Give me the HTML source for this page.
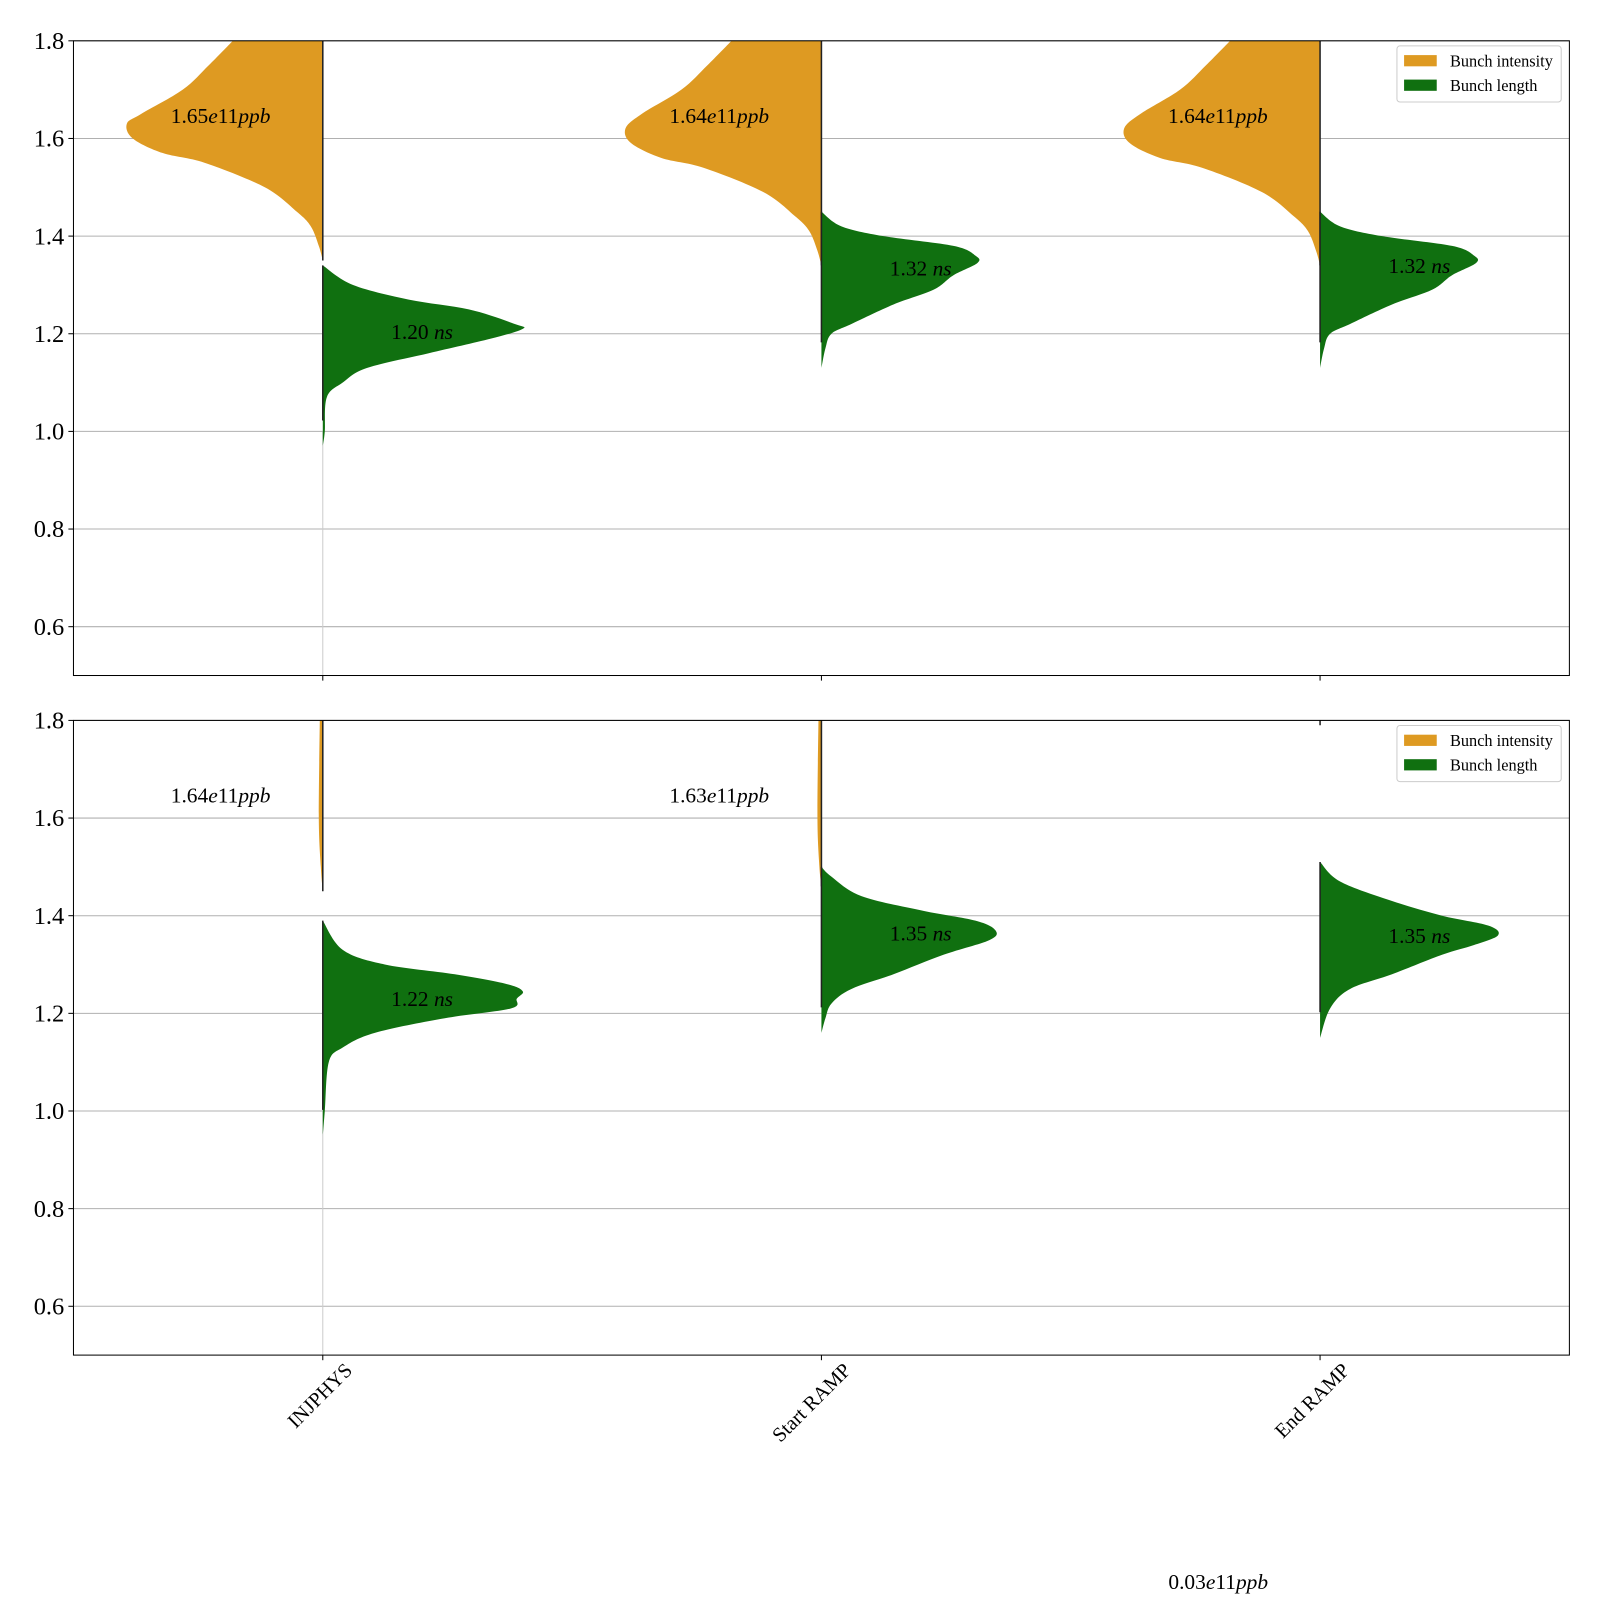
<!DOCTYPE html>
<html><head><meta charset="utf-8"><style>
body{margin:0;background:#fff}
svg{display:block;font-family:"Liberation Serif",serif}
</style></head><body>
<svg id="chart" width="1600" height="1600" viewBox="0 0 1568 1568"></svg>
<script>
const categories=["INJPHYS","Start RAMP","End RAMP"];
const yTicks=[0.6,0.8,1.0,1.2,1.4,1.6,1.8];
// profiles: [y value, half-width fraction]
const topIntensity=[
 [[1.8,0.45],[1.75,0.57],[1.7,0.70],[1.65,0.91],[1.63,0.98],[1.6,0.95],[1.57,0.80],[1.55,0.59],[1.5,0.29],[1.45,0.13],[1.42,0.06],[1.38,0.02],[1.35,0]],
 [[1.8,0.45],[1.75,0.57],[1.7,0.70],[1.65,0.90],[1.62,0.98],[1.59,0.95],[1.56,0.80],[1.54,0.59],[1.49,0.29],[1.44,0.13],[1.41,0.06],[1.37,0.02],[1.34,0]],
 [[1.8,0.45],[1.75,0.57],[1.7,0.70],[1.65,0.90],[1.62,0.98],[1.59,0.95],[1.56,0.80],[1.54,0.59],[1.49,0.29],[1.44,0.13],[1.41,0.06],[1.37,0.02],[1.34,0]]
];
const topLength=[
 [[1.34,0],[1.3,0.15],[1.27,0.43],[1.25,0.73],[1.22,0.96],[1.21,1.0],[1.19,0.84],[1.16,0.53],[1.13,0.22],[1.1,0.10],[1.07,0.02],[1.0,0.01],[0.97,0]],
 [[1.45,0],[1.42,0.10],[1.4,0.31],[1.38,0.66],[1.36,0.77],[1.345,0.78],[1.32,0.66],[1.29,0.56],[1.26,0.36],[1.22,0.15],[1.2,0.05],[1.17,0.02],[1.13,0]],
 [[1.45,0],[1.42,0.10],[1.4,0.31],[1.38,0.66],[1.36,0.77],[1.345,0.78],[1.32,0.66],[1.29,0.56],[1.26,0.36],[1.22,0.15],[1.2,0.05],[1.17,0.02],[1.13,0]]
];
const botIntensity=[
 [[1.8,0.015],[1.6,0.02],[1.5,0.01],[1.45,0]],
 [[1.8,0.015],[1.6,0.02],[1.5,0.01],[1.46,0]],
 [[1.8,0],[1.79,0]]
];
const botLength=[
 [[1.39,0],[1.33,0.10],[1.3,0.31],[1.28,0.66],[1.26,0.92],[1.245,1.0],[1.23,0.97],[1.21,0.94],[1.19,0.61],[1.16,0.26],[1.13,0.10],[1.1,0.03],[1.0,0.01],[0.95,0]],
 [[1.5,0],[1.48,0.05],[1.44,0.20],[1.41,0.51],[1.39,0.77],[1.37,0.87],[1.35,0.84],[1.32,0.61],[1.28,0.36],[1.25,0.15],[1.22,0.05],[1.19,0.02],[1.16,0]],
 [[1.51,0],[1.47,0.10],[1.43,0.36],[1.4,0.61],[1.38,0.84],[1.36,0.89],[1.34,0.77],[1.32,0.61],[1.28,0.36],[1.25,0.15],[1.21,0.05],[1.15,0]]
];
const topIntLabels=["1.65","1.64","1.64"];
const topLenLabels=["1.20","1.32","1.32"];
const topLenLabelY=[1.2,1.33,1.335];
const botIntLabels=["1.64","1.63",null];
const botLenLabels=["1.22","1.35","1.35"];
const botLenLabelY=[1.225,1.36,1.355];

const NS="http://www.w3.org/2000/svg";
const svg=document.getElementById('chart');
function el(t,a,p){const e=document.createElementNS(NS,t);for(const k in a)e.setAttribute(k,a[k]);(p||svg).appendChild(e);return e;}
const X0=72,X1=1538,HW=196;
function xPos(i){return X0+(i+0.5)*(X1-X0)/3;}
function smooth(pts){
 let d=' L'+pts[0][0].toFixed(1)+','+pts[0][1].toFixed(1);
 for(let i=0;i<pts.length-1;i++){
  const p0=pts[Math.max(0,i-1)],p1=pts[i],p2=pts[i+1],p3=pts[Math.min(pts.length-1,i+2)];
  const c1=[p1[0]+(p2[0]-p0[0])/6,p1[1]+(p2[1]-p0[1])/6],c2=[p2[0]-(p3[0]-p1[0])/6,p2[1]-(p3[1]-p1[1])/6];
  d+=' C'+c1.map(v=>v.toFixed(1))+' '+c2.map(v=>v.toFixed(1))+' '+p2.map(v=>v.toFixed(1));
 }
 return d;
}
const panels=[{top:40,bot:662,int:topIntensity,len:topLength,il:topIntLabels,ll:topLenLabels,lly:topLenLabelY,name:'top'},
{top:706,bot:1328,int:botIntensity,len:botLength,il:botIntLabels,ll:botLenLabels,lly:botLenLabelY,name:'bottom'}];
const ORANGE='#de9a22',GREEN='#107010';
panels.forEach((P,pi)=>{
 const yPos=v=>P.bot-(v-0.5)/1.3*(P.bot-P.top);
 const g=el('g',{});
 
 
 const clip=el('clipPath',{id:'c'+pi},g);el('rect',{x:X0,y:P.top,width:X1-X0,height:P.bot-P.top},clip);
 yTicks.forEach(t=>{
  const y=yPos(t);
  const gl=el('line',{x1:X0,x2:X1,y1:y,y2:y,stroke:'#b0b0b0','stroke-width':1},g);
  
  
  el('line',{x1:X0-5,x2:X0,y1:y,y2:y,stroke:'#000'},g);
  const tx=el('text',{x:X0-9,y:y+8,'text-anchor':'end','font-size':24},g);
  tx.textContent=t.toFixed(1);
  
  
 });
 el('line',{x1:xPos(0),x2:xPos(0),y1:yPos(1.0),y2:P.bot,stroke:'#cccccc','stroke-width':1},g);
 const vg=el('g',{'clip-path':'url(#c'+pi+')'},g);
 categories.forEach((c,i)=>{
  const cx=xPos(i);
  [[P.int[i],-1,ORANGE,'intensity'],[P.len[i],1,GREEN,'length']].forEach(([prof,s,col,nm])=>{
   const pts=prof.map(p=>[cx+s*p[1]*HW,yPos(p[0])]);
   let d='M'+cx+','+yPos(prof[0][0])+smooth(pts)+' L'+cx+','+yPos(prof[prof.length-1][0])+' Z';
   const pa=el('path',{d:d,fill:col},vg);
   
   
   el('line',{x1:cx,x2:cx,y1:yPos(prof[0][0]),y2:yPos(prof[prof.length-1][0])+(s>0?-25:0),stroke:'#222','stroke-width':1.5},vg);
  });
  el('line',{x1:cx,x2:cx,y1:P.bot,y2:P.bot+5,stroke:'#000'},g);
  if(P.il[i]){const t=el('text',{x:cx-149,y:yPos(1.63)-1,'font-size':21},g);
   t.innerHTML=P.il[i]+'<tspan font-style="italic">e</tspan>11<tspan font-style="italic">ppb</tspan>';
   
   }
  const t2=el('text',{x:cx+67,y:yPos(P.lly[i])+5,'font-size':21},g);
  t2.innerHTML=P.ll[i]+' <tspan font-style="italic">ns</tspan>';
  
  
 });
 el('rect',{x:X0,y:P.top,width:X1-X0,height:P.bot-P.top,fill:'none',stroke:'#000','stroke-width':1},g);
 const lg=el('g',{},g);
 
 
 el('rect',{x:1369,y:P.top+5,width:161,height:55,rx:3,fill:'#fff',stroke:'#cccccc'},lg);
 el('rect',{x:1376,y:P.top+14,width:32,height:11,fill:ORANGE},lg);
 el('rect',{x:1376,y:P.top+38,width:32,height:11,fill:GREEN},lg);
 const a=el('text',{x:1421,y:P.top+25,'font-size':16},lg);a.textContent='Bunch intensity';
 const b=el('text',{x:1421,y:P.top+49,'font-size':16},lg);b.textContent='Bunch length';
});
categories.forEach((c,i)=>{
 const x=xPos(i)+30,y=1344;
 const t=el('text',{x:x,y:y,'text-anchor':'end','font-size':20,transform:'rotate(-45 '+x+' '+y+')'});
 t.textContent=c;
 
 
});
const ft=el('text',{x:1145,y:1557,'font-size':21});
ft.innerHTML='0.03<tspan font-style="italic">e</tspan>11<tspan font-style="italic">ppb</tspan>';


</script>
</body></html>
